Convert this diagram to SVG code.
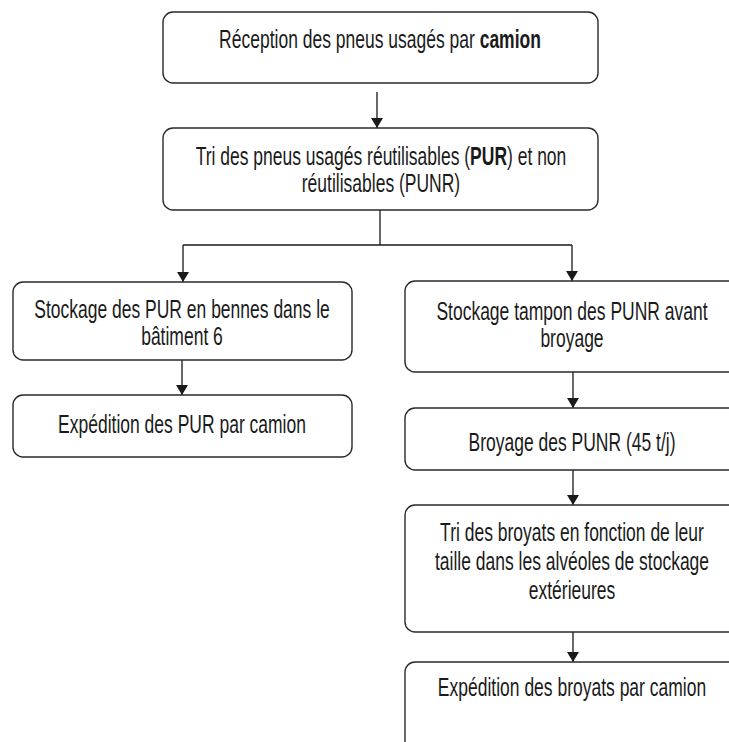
<svg xmlns="http://www.w3.org/2000/svg" width="729" height="742" viewBox="0 0 729 742">
<defs>
<marker id="arr" viewBox="0 0 10 12" refX="10" refY="6" markerWidth="10" markerHeight="12" markerUnits="userSpaceOnUse" orient="auto">
<path d="M0,0 L10,6 L0,12 Z" fill="#1a1a1a"/>
</marker>
</defs>
<style>
.box{fill:#ffffff;stroke:#2a2a2a;stroke-width:1.4}
.t{font-family:"Liberation Sans",Arial,sans-serif;font-size:25px;fill:#1a1a1a;text-anchor:middle}
.b{font-weight:bold}
.c{fill:none;stroke:#1a1a1a;stroke-width:1.3}
</style>
<rect width="729" height="742" fill="#ffffff"/>
<g id="connectors">
<path class="c" d="M377,92 V128" marker-end="url(#arr)"/>
<path class="c" d="M380,210 V245 M183,245 H572"/>
<path class="c" d="M183,245 V282" marker-end="url(#arr)"/>
<path class="c" d="M572,245 V281" marker-end="url(#arr)"/>
<path class="c" d="M182,360 V395" marker-end="url(#arr)"/>
<path class="c" d="M573,372 V408" marker-end="url(#arr)"/>
<path class="c" d="M573,470 V505" marker-end="url(#arr)"/>
<path class="c" d="M573,632 V662" marker-end="url(#arr)"/>
</g>
<g id="n1">
<rect class="box" x="163" y="12" width="435" height="71" rx="10"/>
<text class="t" transform="translate(380,48) scale(0.7,1)">Réception des pneus usagés par <tspan class="b">camion</tspan></text>
</g>
<g id="n2">
<rect class="box" x="163" y="128" width="435" height="82" rx="10"/>
<text class="t" transform="translate(381,165) scale(0.7,1)">Tri des pneus usagés réutilisables (<tspan class="b">PUR</tspan>) et non</text>
<text class="t" transform="translate(381,192) scale(0.7,1)">réutilisables (PUNR)</text>
</g>
<g id="n3">
<rect class="box" x="13" y="282" width="339" height="78" rx="10"/>
<text class="t" transform="translate(182,318) scale(0.7,1)">Stockage des PUR en bennes dans le</text>
<text class="t" transform="translate(182,345) scale(0.7,1)">bâtiment 6</text>
</g>
<g id="n4">
<rect class="box" x="13" y="395" width="339" height="62" rx="10"/>
<text class="t" transform="translate(182,433) scale(0.7,1)">Expédition des PUR par camion</text>
</g>
<g id="n5">
<rect class="box" x="405" y="281" width="334" height="91" rx="10"/>
<text class="t" transform="translate(572,320) scale(0.7,1)">Stockage tampon des PUNR avant</text>
<text class="t" transform="translate(572,347) scale(0.7,1)">broyage</text>
</g>
<g id="n6">
<rect class="box" x="405" y="408" width="334" height="62" rx="10"/>
<text class="t" transform="translate(572,451) scale(0.7,1)">Broyage des PUNR (45 t/j)</text>
</g>
<g id="n7">
<rect class="box" x="405" y="505" width="334" height="127" rx="10"/>
<text class="t" transform="translate(572,541) scale(0.7,1)">Tri des broyats en fonction de leur</text>
<text class="t" transform="translate(572,570) scale(0.7,1)">taille dans les alvéoles de stockage</text>
<text class="t" transform="translate(572,599) scale(0.7,1)">extérieures</text>
</g>
<g id="n8">
<rect class="box" x="405" y="662" width="334" height="100" rx="10"/>
<text class="t" transform="translate(572,696) scale(0.7,1)">Expédition des broyats par camion</text>
</g>
</svg>
